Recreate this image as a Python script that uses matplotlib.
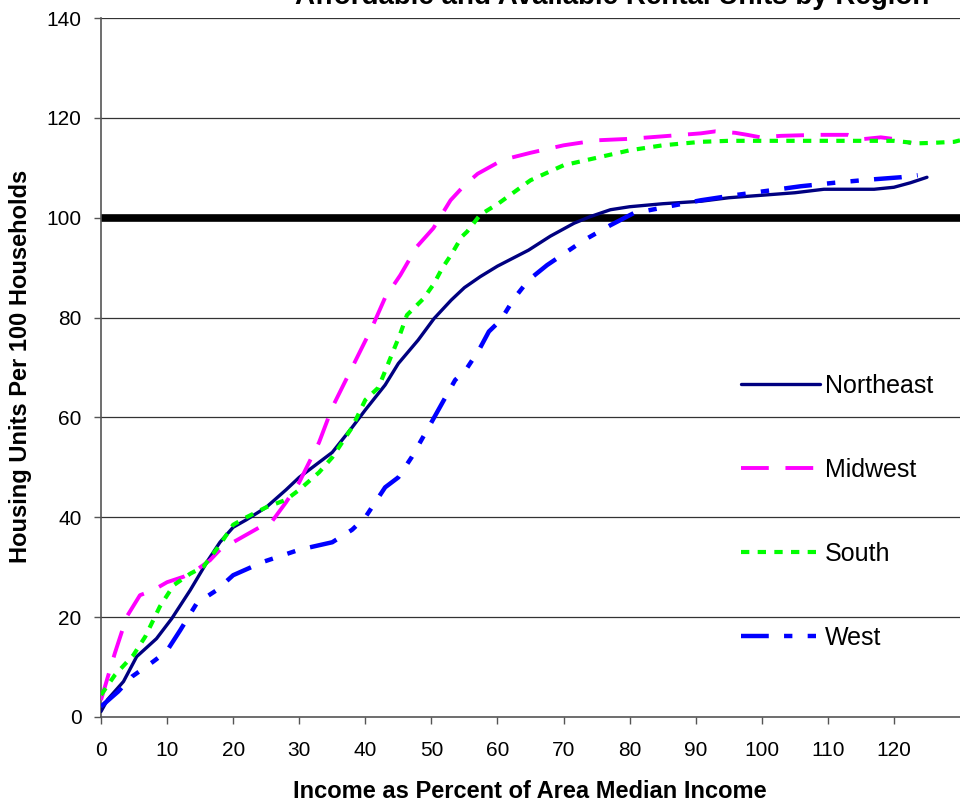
import matplotlib
matplotlib.use("Agg")
import matplotlib.pyplot as plt

plt.rcParams['font.family'] = ['Liberation Sans', 'DejaVu Sans']
plt.rcParams['lines.scale_dashes'] = False

title = "Affordable and Available Rental Units by Region"
xlabel = "Income as Percent of Area Median Income"
ylabel = "Housing Units Per 100 Households"

ne_x = [0, 1, 3.4, 5.4, 8.4, 10.7, 13.5, 16.2, 18, 20, 22, 25, 28, 30, 33, 35, 38, 40, 43, 45, 48, 50.4, 53, 55, 57.4, 60, 64.7, 68, 71.6, 74, 77.1, 80, 85, 90.8, 95, 100, 105, 109.4, 113, 117, 120, 122.5, 125]
ne_y = [1.1, 3.5, 7.1, 12.1, 15.7, 19.7, 25.4, 31.4, 35, 38, 39.5, 42, 45.5, 48, 51, 53, 58, 61.5, 66.5, 70.8, 75.5, 79.8, 83.5, 86, 88.2, 90.3, 93.5, 96.3, 98.9, 100.2, 101.6, 102.2, 102.8, 103.3, 104, 104.5, 105, 105.7, 105.7, 105.7, 106.1, 107, 108.1]

mw_x = [0, 2.1, 3.9, 5.9, 7.9, 10, 12.5, 14.5, 16.5, 18, 20, 22, 24, 25.5, 28, 30, 33, 35, 38, 41, 43, 45.3, 47.8, 50.3, 52.9, 55, 57, 60, 62, 65, 70, 75, 80, 85, 90.8, 93, 96, 97.8, 99.8, 102.9, 108.4, 113, 115, 118, 121, 122.6]
mw_y = [3.4, 12.8, 20.1, 24.4, 25.4, 27, 28.1, 29.5, 31.4, 33.5, 35, 36.5, 38, 38.5, 43, 47, 55, 62, 70, 78, 84, 88.5, 94.2, 97.9, 103.5, 106.5, 108.8, 111, 112, 113, 114.5, 115.5, 115.8, 116.3, 116.9, 117.3, 117, 116.6, 116.1, 116.4, 116.6, 116.6, 115.7, 116.1, 115.6, 114.9]

so_x = [0, 2.1, 4.9, 6.7, 8.9, 11, 13.5, 15.5, 18, 20, 22, 25, 28, 30, 33, 35, 38, 40, 42, 45.3, 46.3, 48.8, 50.4, 51.6, 53.1, 54.6, 55.4, 57.4, 60.2, 65, 70, 75, 80, 85, 90.8, 95, 100, 105, 110, 115, 120, 123.6, 126, 129.1, 130]
so_y = [4.4, 8.4, 12.4, 16.1, 22.1, 26.4, 28.7, 30.1, 34.5, 38.5, 40, 42, 43.5, 45.5, 49, 52, 58, 63.5, 66, 76.8, 80.5, 83.8, 86.8, 89.8, 92.8, 96.2, 97.2, 100.6, 102.9, 107.5, 110.5, 112, 113.5, 114.5, 115.2, 115.4, 115.4, 115.4, 115.4, 115.4, 115.4, 114.9, 115, 115.2, 115.5]

we_x = [0, 2.6, 4.7, 7.9, 9.9, 12, 14.5, 17.5, 20, 24.6, 30, 35, 38, 40, 43, 45, 47, 50, 51.9, 53.6, 55.2, 57.2, 58.7, 60.5, 62.5, 64.7, 67.5, 73.1, 77.1, 80.6, 85.7, 90.8, 95.8, 100.9, 105.9, 111, 116, 121, 123.6]
we_y = [2.1, 5.1, 8.1, 11.1, 13.1, 17.4, 22.8, 25.4, 28.4, 31.1, 33.5, 35, 37.5, 40, 46, 48, 52, 59, 63.5, 67.5, 69.5, 73.5, 77.2, 79.5, 83.8, 87.5, 90.5, 95.5, 98.5, 100.9, 102.2, 103.5, 104.5, 105.4, 106.3, 107, 107.6, 108.1, 108.5]

reference_level = 100
yticks = [0, 20, 40, 60, 80, 100, 120, 140]
xticks = [0, 10, 20, 30, 40, 50, 60, 70, 80, 90, 100, 110, 120]

W, H = 960, 806
fig = plt.figure(figsize=(W / 100, H / 100), dpi=100)
ax = fig.add_axes([101 / W, 1 - 717 / H, (960 - 101) / W, (717 - 18) / H])

ax.set_xlim(0, 130)
ax.set_ylim(0, 140)

for y in yticks[1:]:
    ax.axhline(y, color='#333333', lw=0.9, zorder=1)
ax.axhline(reference_level, color='black', lw=5.5, zorder=2)

ax.plot(ne_x, ne_y, color='#000080', lw=2.4, solid_capstyle='round', label='Northeast', zorder=3)
ax.plot(mw_x, mw_y, color='#FF00FF', lw=2.8, dashes=(20, 12), label='Midwest', zorder=3)
ax.plot(so_x, so_y, color='#00FF00', lw=3.0, dashes=(6, 6), label='South', zorder=3)
ax.plot(we_x, we_y, color='#0000FF', lw=3.2, dashes=(20, 11, 6, 11, 6, 11), label='West', zorder=3)

ax.set_xticks(xticks)
ax.set_yticks(yticks)
ax.tick_params(axis='both', labelsize=15, length=5, width=1, color='#555555', direction='out')
ax.tick_params(axis='y', pad=9)
ax.tick_params(axis='x', pad=12)
for s in ['top', 'right']:
    ax.spines[s].set_visible(False)
for s in ['left', 'bottom']:
    ax.spines[s].set_color('#555555')
    ax.spines[s].set_linewidth(1.2)

fig.text(530 / W, 1 - 791 / H, xlabel, ha='center', va='center', fontsize=17, fontweight='bold')
fig.text(21 / W, 1 - 366 / H, ylabel, ha='center', va='center', rotation=90, fontsize=17, fontweight='bold')
fig.text(612 / W, 1 - 4 / H, title, ha='center', va='baseline', fontsize=20, fontweight='bold')

leg = ax.legend(loc='upper left', bbox_to_anchor=(741 / W, 1 - 374 / H), bbox_transform=fig.transFigure,
                frameon=False, fontsize=18, handlelength=3.15, handletextpad=0.2,
                labelspacing=2.4, borderpad=0, borderaxespad=0)

fig.savefig('out.png', dpi=100)
